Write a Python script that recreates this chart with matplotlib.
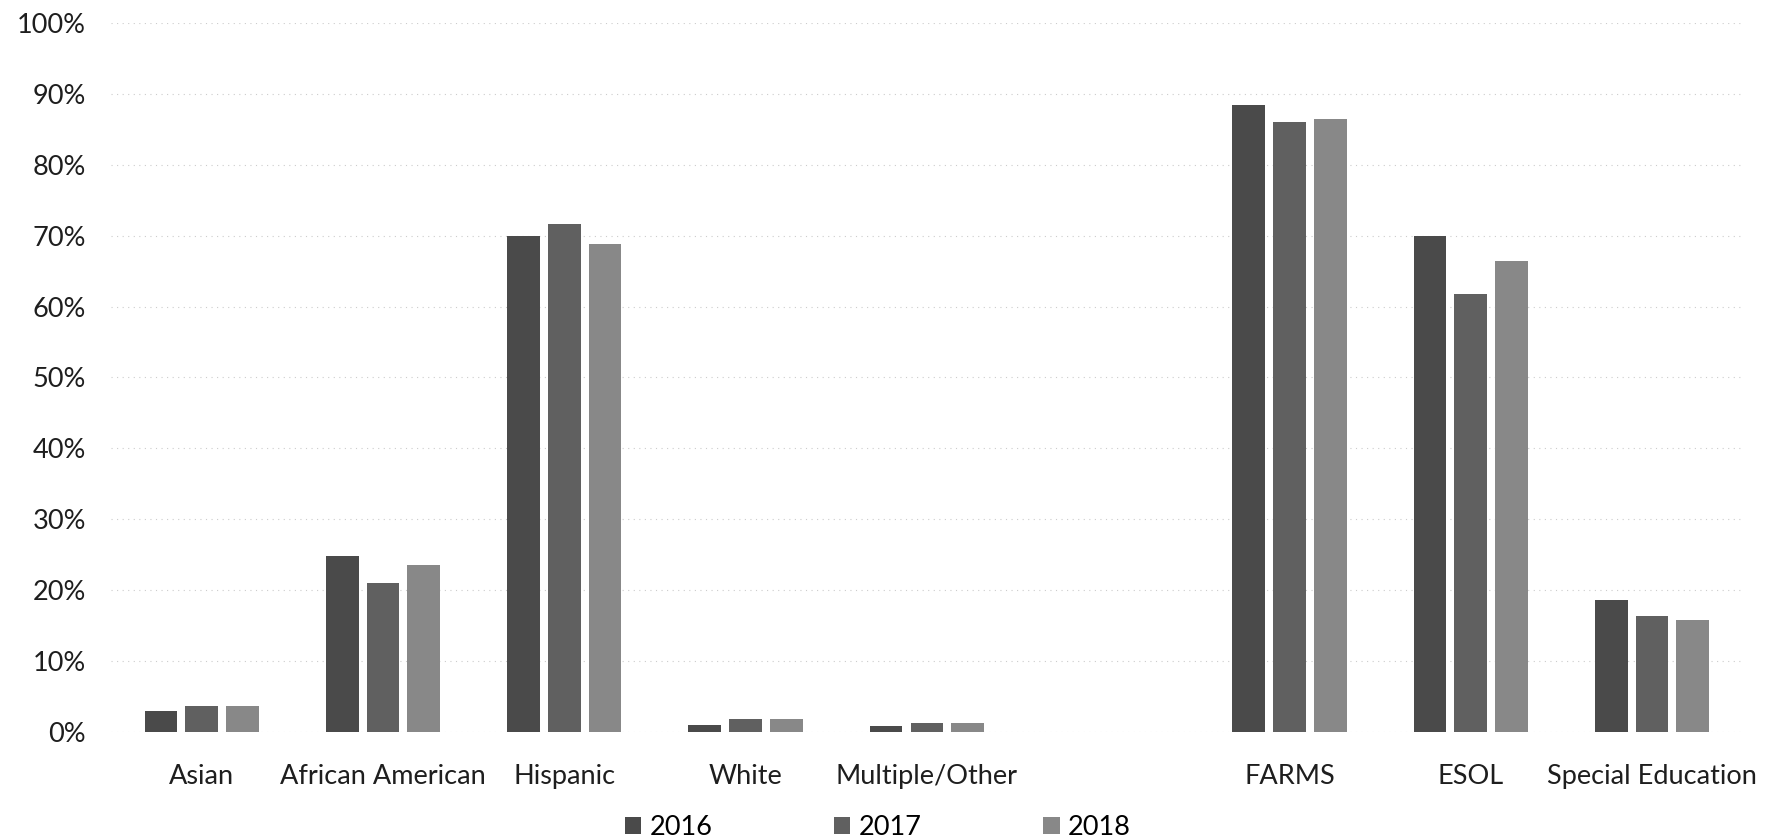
import numpy as np
import matplotlib.pyplot as plt

plt.rcParams['font.family'] = ['Lato', 'DejaVu Sans']

# categories (the empty one is the blank slot between the two groups)
categories = ["Asian", "African American", "Hispanic", "White", "Multiple/Other",
              "", "FARMS", "ESOL", "Special Education"]
years = ["2016", "2017", "2018"]

pct_2016 = [2.9, 24.8, 70.0, 1.0, 0.8, np.nan, 88.5, 70.0, 18.6]
pct_2017 = [3.7, 21.0, 71.7, 1.8, 1.3, np.nan, 86.0, 61.8, 16.3]
pct_2018 = [3.6, 23.5, 68.8, 1.8, 1.3, np.nan, 86.5, 66.5, 15.8]

colors = ["#4a4a4a", "#606060", "#888888"]

fig = plt.figure(figsize=(17.8, 8.4), dpi=100)
ax = fig.add_axes([0.0624, 0.1286, 0.9166, 0.844])

x = np.arange(len(categories))
bar_w = 0.18
step = 0.225
for i, (vals, lab) in enumerate(zip([pct_2016, pct_2017, pct_2018], years)):
    ax.bar(x + (i - 1) * step, np.array(vals) / 100, width=bar_w,
           color=colors[i], label=lab, zorder=3)

ax.set_xlim(-0.5, len(categories) - 0.5)
ax.set_ylim(0, 1.0)
ax.set_yticks(np.arange(0, 1.01, 0.1))
ax.set_yticklabels([f"{int(round(v * 100))}%" for v in np.arange(0, 1.01, 0.1)])
ax.set_xticks(x)
ax.set_xticklabels(categories)
ax.tick_params(axis='both', length=0, labelsize=19.5, colors="#1e1e1e")
ax.tick_params(axis='x', pad=23)
ax.tick_params(axis='y', pad=18)

ax.grid(axis='y', color="#cccccc", linestyle=(0, (1, 4)), linewidth=0.8, zorder=0)
for s in ax.spines.values():
    s.set_visible(False)

ax.legend(loc='upper center', bbox_to_anchor=(0.47, -0.083), ncol=3,
          frameon=False, fontsize=19.5, handlelength=0.6, handleheight=0.6,
          columnspacing=4.5, handletextpad=0.3)

fig.savefig("out.png", dpi=100)
